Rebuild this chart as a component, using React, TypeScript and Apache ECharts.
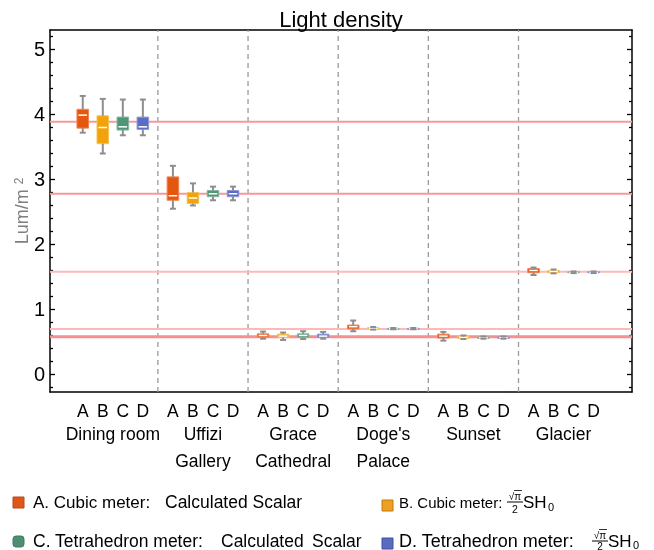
import React, { useEffect, useRef } from "react";
import * as echarts from "echarts";

const groups = ["Dining room", "Uffizi\nGallery", "Grace\nCathedral", "Doge's\nPalace", "Sunset", "Glacier"];
const meters = ["A", "B", "C", "D"];

// [min, q1, median, q3, max] per group
const boxA = [
  [3.72, 3.79, 3.99, 4.08, 4.285],
  [2.55, 2.68, 2.75, 3.04, 3.21],
  [0.55, 0.575, 0.6, 0.625, 0.66],
  [0.665, 0.7, 0.735, 0.76, 0.83],
  [0.52, 0.56, 0.59, 0.62, 0.655],
  [1.53, 1.565, 1.6, 1.63, 1.645],
];
const boxB = [
  [3.4, 3.55, 3.8, 3.98, 4.24],
  [2.6, 2.63, 2.715, 2.8, 2.94],
  [0.53, 0.57, 0.59, 0.62, 0.645],
  [0.69, 0.7, 0.71, 0.72, 0.73],
  [0.545, 0.555, 0.57, 0.585, 0.6],
  [1.555, 1.565, 1.585, 1.6, 1.615],
];
const boxC = [
  [3.68, 3.76, 3.81, 3.96, 4.23],
  [2.68, 2.735, 2.78, 2.83, 2.89],
  [0.545, 0.57, 0.6, 0.625, 0.665],
  [0.695, 0.7, 0.705, 0.71, 0.715],
  [0.55, 0.555, 0.565, 0.575, 0.585],
  [1.56, 1.565, 1.57, 1.58, 1.585],
];
const boxD = [
  [3.68, 3.77, 3.81, 3.96, 4.23],
  [2.68, 2.735, 2.78, 2.83, 2.89],
  [0.55, 0.57, 0.59, 0.62, 0.655],
  [0.695, 0.7, 0.705, 0.71, 0.715],
  [0.55, 0.555, 0.565, 0.575, 0.585],
  [1.56, 1.565, 1.57, 1.58, 1.585],
];
const refLines = [3.89, 2.78, 1.58, 0.7, 0.58];
const separators = [3.75, 8.25, 12.75, 17.25, 21.75];
const yTicks = [0, 1, 2, 3, 4, 5];
const yMinorTicks = [-0.2, 0.2, 0.4, 0.6, 0.8, 1.2, 1.4, 1.6, 1.8, 2.2, 2.4, 2.6, 2.8, 3.2, 3.4, 3.6, 3.8, 4.2, 4.4, 4.6, 4.8, 5.2];

const Y_MIN = -0.27;
const Y_MAX = 5.3;
const X_MIN = -1.635;
const X_MAX = 27.415;
const GROUP_STEP = 4.5;

const FONT = '"Liberation Sans", Arial, sans-serif';
const boxColors = [
  { fill: "#E5560F", stroke: "#F08555" },
  { fill: "#F2A20A", stroke: "#F7C25A" },
  { fill: "#4E9676", stroke: "#84B8A0" },
  { fill: "#5B6CC6", stroke: "#8E9ADA" },
];
const refStyles = [
  { color: "#F59A9A", width: 2 },
  { color: "#F59A9A", width: 2 },
  { color: "#FFB8B8", width: 2 },
  { color: "#FFB8B8", width: 2 },
  { color: "#F59090", width: 3.2 },
];

function txt(text: string, x: number, y: number, size: number, align = "left", fill = "#000") {
  return {
    type: "text",
    x,
    y,
    style: {
      text,
      fill,
      textFill: fill,
      font: `${size}px ${FONT}`,
      fontSize: size,
      fontFamily: FONT,
      align,
      textAlign: align,
      verticalAlign: "middle",
      textVerticalAlign: "middle",
    },
  };
}

function minorAxis(position: string) {
  return {
    type: "value",
    min: Y_MIN,
    max: Y_MAX,
    position,
    axisLine: { show: false, onZero: false },
    axisTick: { show: true, inside: true, length: 3, customValues: yMinorTicks, lineStyle: { color: "#000", width: 1.3 } },
    axisLabel: { show: false },
    splitLine: { show: false },
  };
}

export default function App() {
  const ref = useRef<HTMLDivElement>(null);
  useEffect(() => {
    if (!ref.current) return;
    const chart = echarts.init(ref.current, undefined, { renderer: "svg" });

    const boxSeries = [boxA, boxB, boxC, boxD].map((boxes, k) => ({
      type: "custom",
      name: meters[k],
      z: 3,
      xAxisIndex: 0,
      yAxisIndex: 0,
      encode: { x: 0, y: [1, 2, 3, 4, 5] },
      data: boxes.map((b, g) => [g * GROUP_STEP + k, ...b]),
      renderItem: (params: any, api: any) => {
        const x = api.value(0);
        const p = (v: number) => api.coord([x, v]);
        const [cx, yMin] = p(api.value(1));
        const yQ1 = p(api.value(2))[1];
        const yMed = p(api.value(3))[1];
        const yQ3 = p(api.value(4))[1];
        const yMax = p(api.value(5))[1];
        const hw = 5.8;
        const cw = 3;
        const wk = { stroke: "#8e8e8e", lineWidth: 2 };
        return {
          type: "group",
          children: [
            {
              type: "rect",
              shape: { x: cx - hw, y: yQ3, width: 2 * hw, height: Math.max(yQ1 - yQ3, 1) },
              style: { fill: boxColors[k].fill, stroke: boxColors[k].stroke, lineWidth: 1 },
            },
            {
              type: "line",
              shape: { x1: cx - hw + 1.5, y1: yMed, x2: cx + hw - 1.5, y2: yMed },
              style: { stroke: "#ffffff", lineWidth: 1.5 },
            },
            { type: "line", shape: { x1: cx, y1: yQ3, x2: cx, y2: yMax }, style: wk },
            { type: "line", shape: { x1: cx, y1: yQ1, x2: cx, y2: yMin }, style: wk },
            { type: "line", shape: { x1: cx - cw, y1: yMax, x2: cx + cw, y2: yMax }, style: wk },
            { type: "line", shape: { x1: cx - cw, y1: yMin, x2: cx + cw, y2: yMin }, style: wk },
          ],
        };
      },
    }));

    const meterLabelData: any[] = [];
    groups.forEach((_, g) => meters.forEach((m, k) => meterLabelData.push([g * GROUP_STEP + k, k])));

    const option: any = {
      animation: false,
      title: {
        text: "Light density",
        left: 341,
        top: 8,
        padding: 0,
        textAlign: "center",
        textStyle: { fontFamily: FONT, fontSize: 22, fontWeight: "normal", color: "#000" },
      },
      grid: { left: 50, right: 22, top: 30, bottom: 158, outerBoundsMode: "none", containLabel: false },
      xAxis: [
        {
          type: "value",
          min: X_MIN,
          max: X_MAX,
          position: "bottom",
          axisLine: { show: true, onZero: false, lineStyle: { color: "#000", width: 1.5 } },
          axisTick: { show: false },
          axisLabel: { show: false },
          splitLine: { show: false },
        },
        {
          type: "value",
          min: X_MIN,
          max: X_MAX,
          position: "top",
          axisLine: { show: true, onZero: false, lineStyle: { color: "#000", width: 1.5 } },
          axisTick: { show: false },
          axisLabel: { show: false },
          splitLine: { show: false },
        },
      ],
      yAxis: [
        {
          type: "value",
          min: Y_MIN,
          max: Y_MAX,
          position: "left",
          name: "{a|Lum/m }{s|2}",
          nameLocation: "middle",
          nameGap: 19,
          nameMoveOverlap: false,
          nameTextStyle: {
            fontFamily: FONT,
            fontSize: 18,
            color: "#808080",
            rich: {
              a: { fontFamily: FONT, fontSize: 18, color: "#808080" },
              s: { fontFamily: FONT, fontSize: 12, color: "#808080", verticalAlign: "top" },
            },
          },
          axisLine: { show: true, onZero: false, lineStyle: { color: "#000", width: 1.5 } },
          axisTick: { show: true, inside: true, length: 5, customValues: yTicks, lineStyle: { color: "#000", width: 1.3 } },
          axisLabel: { show: true, customValues: yTicks, margin: 5, fontFamily: FONT, fontSize: 20, color: "#000" },
          splitLine: { show: false },
        },
        minorAxis("left"),
        {
          type: "value",
          min: Y_MIN,
          max: Y_MAX,
          position: "right",
          axisLine: { show: true, onZero: false, lineStyle: { color: "#000", width: 1.5 } },
          axisTick: { show: true, inside: true, length: 5, customValues: yTicks, lineStyle: { color: "#000", width: 1.3 } },
          axisLabel: { show: false },
          splitLine: { show: false },
        },
        minorAxis("right"),
      ],
      graphic: [
        { type: "rect", shape: { x: 13, y: 497, width: 11, height: 11 }, style: { fill: "#E0561A", stroke: "#B8481A", lineWidth: 1 } },
        txt("A. Cubic meter:", 33, 502, 17),
        txt("Calculated Scalar", 165, 502, 17.5),
        { type: "rect", shape: { x: 13, y: 536, width: 11, height: 11, r: 3 }, style: { fill: "#4E8E72", stroke: "#3E7A60", lineWidth: 1 } },
        txt("C. Tetrahedron meter:", 33, 541, 17.5),
        txt("Calculated", 221, 541, 17.5),
        txt("Scalar", 312, 541, 17.5),
        { type: "rect", shape: { x: 382, y: 500, width: 11, height: 11 }, style: { fill: "#F0A020", stroke: "#C07810", lineWidth: 1 } },
        txt("B. Cubic meter:", 399, 502, 15),
        txt("√π", 515, 496, 10, "center"),
        { type: "line", shape: { x1: 514, y1: 490.5, x2: 522, y2: 490.5 }, style: { stroke: "#000", lineWidth: 0.8 } },
        { type: "line", shape: { x1: 507, y1: 502, x2: 523, y2: 502 }, style: { stroke: "#000", lineWidth: 1 } },
        txt("2", 515, 508.5, 10.5, "center"),
        txt("SH", 523, 502, 17),
        txt("0", 548, 507, 11),
        { type: "rect", shape: { x: 382, y: 538, width: 11, height: 11 }, style: { fill: "#5A6CC0", stroke: "#3E50A8", lineWidth: 1 } },
        txt("D. Tetrahedron meter:", 399, 541, 18),
        txt("√π", 600, 535, 10, "center"),
        { type: "line", shape: { x1: 599, y1: 529.5, x2: 607, y2: 529.5 }, style: { stroke: "#000", lineWidth: 0.8 } },
        { type: "line", shape: { x1: 592, y1: 541, x2: 608, y2: 541 }, style: { stroke: "#000", lineWidth: 1 } },
        txt("2", 600, 546, 10, "center"),
        txt("SH", 608, 541, 17),
        txt("0", 633, 545, 11),
      ],
      series: [
        {
          type: "custom",
          name: "separators",
          z: 1,
          data: separators.map((s) => [s]),
          encode: { x: 0 },
          renderItem: (params: any, api: any) => {
            const x = api.value(0);
            const a = api.coord([x, Y_MIN]);
            const b = api.coord([x, Y_MAX]);
            return {
              type: "line",
              shape: { x1: a[0], y1: a[1], x2: b[0], y2: b[1] },
              style: { stroke: "#9a9a9a", lineWidth: 1.3, lineDash: [5, 4] },
            };
          },
        },
        {
          type: "custom",
          name: "reference",
          z: 2,
          data: refLines.map((v, i) => [X_MIN, v, i]),
          encode: { y: 1 },
          renderItem: (params: any, api: any) => {
            const v = api.value(1);
            const i = api.value(2);
            const a = api.coord([X_MIN, v]);
            const b = api.coord([X_MAX, v]);
            return {
              type: "line",
              shape: { x1: a[0], y1: a[1], x2: b[0], y2: b[1] },
              style: { stroke: refStyles[i].color, lineWidth: refStyles[i].width },
            };
          },
        },
        ...boxSeries,
        {
          type: "custom",
          name: "meterLabels",
          z: 4,
          data: meterLabelData,
          encode: { x: 0 },
          renderItem: (params: any, api: any) => {
            const x = api.value(0);
            const k = api.value(1);
            const pt = api.coord([x, Y_MIN]);
            return txt(meters[k], pt[0], pt[1] + 19, 17.5, "center");
          },
        },
        {
          type: "custom",
          name: "groupLabels",
          z: 4,
          data: groups.map((_, g) => [g * GROUP_STEP + 1.5, g]),
          encode: { x: 0 },
          renderItem: (params: any, api: any) => {
            const x = api.value(0);
            const g = api.value(1);
            const pt = api.coord([x, Y_MIN]);
            const t: any = txt(groups[g], pt[0], pt[1] + 28, 17.5, "center");
            t.style.verticalAlign = "top";
            t.style.textVerticalAlign = "top";
            t.style.lineHeight = 27;
            return t;
          },
        },
      ],
    };
    chart.setOption(option);
    return () => chart.dispose();
  }, []);
  return <div ref={ref} style={{ position: "fixed", left: 0, top: 0, width: 654, height: 550 }} />;
}
